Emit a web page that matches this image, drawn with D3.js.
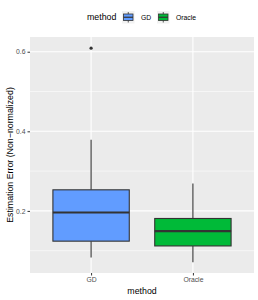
<!DOCTYPE html>
<html>
<head>
<meta charset="utf-8">
<script src="https://cdn.jsdelivr.net/npm/d3@7"></script>
<style>
  body { margin: 0; background: #fff; }
  svg { font-family: "Liberation Sans", Arial, sans-serif; }
</style>
</head>
<body>
<div id="chart"></div>
<script>
// Box summaries
var methods = ["GD", "Oracle"];
var colors = ["#619CFF", "#00BA38"];
var whiskerLow = [0.083, 0.071];
var q1 = [0.124, 0.112];
var medians = [0.196, 0.149];
var q3 = [0.253, 0.181];
var whiskerHigh = [0.379, 0.269];
var outliers = [[0.609], []];
var yTicks = [0.2, 0.4, 0.6];
var yMinor = [0.1, 0.3, 0.5];

var width = 258, height = 300;
var margin = { top: 37, right: 4, bottom: 27, left: 30 };

var svg = d3.select("#chart")
    .append("svg")
    .attr("width", width)
    .attr("height", height);

// Discrete x: centres at 1 and 2 with 0.6 units of padding either side
var x = d3.scalePoint()
    .domain(methods)
    .range([margin.left, width - margin.right])
    .padding(0.6);

var boxW = x.step() * 0.75;

var y = d3.scaleLinear()
    .domain([0.044, 0.637])
    .range([height - margin.bottom, margin.top]);

// Panel background
svg.append("rect")
    .attr("x", margin.left)
    .attr("y", margin.top)
    .attr("width", width - margin.right - margin.left)
    .attr("height", height - margin.bottom - margin.top)
    .attr("fill", "#EBEBEB");

// Minor grid lines
svg.selectAll(".minor")
    .data(yMinor)
    .enter()
    .append("line")
    .attr("x1", margin.left)
    .attr("x2", width - margin.right)
    .attr("y1", function(d) { return y(d); })
    .attr("y2", function(d) { return y(d); })
    .attr("stroke", "#fff")
    .attr("stroke-width", 0.55);

// Major grid lines
svg.selectAll(".major")
    .data(yTicks)
    .enter()
    .append("line")
    .attr("x1", margin.left)
    .attr("x2", width - margin.right)
    .attr("y1", function(d) { return y(d); })
    .attr("y2", function(d) { return y(d); })
    .attr("stroke", "#fff")
    .attr("stroke-width", 1.1);

svg.selectAll(".vgrid")
    .data(methods)
    .enter()
    .append("line")
    .attr("x1", function(d) { return x(d); })
    .attr("x2", function(d) { return x(d); })
    .attr("y1", margin.top)
    .attr("y2", height - margin.bottom)
    .attr("stroke", "#fff")
    .attr("stroke-width", 1.1);

// Axes
var yAxis = svg.append("g")
    .attr("transform", "translate(" + margin.left + ",0)")
    .call(d3.axisLeft(y).tickValues(yTicks).tickFormat(d3.format(".1f")).tickSize(2.5).tickPadding(2));

var xAxis = svg.append("g")
    .attr("transform", "translate(0," + (height - margin.bottom) + ")")
    .call(d3.axisBottom(x).tickSize(2.5).tickPadding(2));

[yAxis, xAxis].forEach(function(g) {
    g.select(".domain").remove();
    g.selectAll(".tick line").attr("stroke", "#333").attr("stroke-width", 1);
    g.selectAll("text").attr("fill", "#4D4D4D").style("font-size", "6.8px");
});

// Boxes
var boxes = svg.selectAll(".box")
    .data(methods)
    .enter()
    .append("g")
    .attr("class", "box");

boxes.append("line")
    .attr("x1", function(d) { return x(d); })
    .attr("x2", function(d) { return x(d); })
    .attr("y1", function(d, i) { return y(whiskerLow[i]); })
    .attr("y2", function(d, i) { return y(q1[i]); })
    .attr("stroke", "#333")
    .attr("stroke-width", 1.1);

boxes.append("line")
    .attr("x1", function(d) { return x(d); })
    .attr("x2", function(d) { return x(d); })
    .attr("y1", function(d, i) { return y(q3[i]); })
    .attr("y2", function(d, i) { return y(whiskerHigh[i]); })
    .attr("stroke", "#333")
    .attr("stroke-width", 1.1);

boxes.append("rect")
    .attr("x", function(d) { return x(d) - boxW / 2; })
    .attr("width", boxW)
    .attr("y", function(d, i) { return y(q3[i]); })
    .attr("height", function(d, i) { return y(q1[i]) - y(q3[i]); })
    .attr("fill", function(d, i) { return colors[i]; })
    .attr("stroke", "#333")
    .attr("stroke-width", 1.1);

boxes.append("line")
    .attr("x1", function(d) { return x(d) - boxW / 2; })
    .attr("x2", function(d) { return x(d) + boxW / 2; })
    .attr("y1", function(d, i) { return y(medians[i]); })
    .attr("y2", function(d, i) { return y(medians[i]); })
    .attr("stroke", "#333")
    .attr("stroke-width", 2.2);

boxes.each(function(d, i) {
    d3.select(this).selectAll("circle")
        .data(outliers[i])
        .enter()
        .append("circle")
        .attr("cx", x(d))
        .attr("cy", function(v) { return y(v); })
        .attr("r", 1.6)
        .attr("fill", "#333");
});

// Axis titles
svg.append("text")
    .attr("x", (margin.left + width - margin.right) / 2)
    .attr("y", 294)
    .attr("text-anchor", "middle")
    .style("font-size", "8.8px")
    .text("method");

svg.append("text")
    .attr("transform", "translate(13," + ((margin.top + height - margin.bottom) / 2) + ") rotate(-90)")
    .attr("text-anchor", "middle")
    .style("font-size", "8.8px")
    .text("Estimation Error (Non\u2212normalized)");

// Legend
var legend = svg.append("g");
legend.append("text")
    .attr("x", 87)
    .attr("y", 19.5)
    .style("font-size", "8.8px")
    .text("method");

var keyX = [122, 157];
var labelX = [141, 176];
methods.forEach(function(m, i) {
    var k = legend.append("g").attr("transform", "translate(" + keyX[i] + ",11)");
    k.append("rect").attr("width", 12.5).attr("height", 12.5).attr("fill", "#F2F2F2");
    k.append("line").attr("x1", 6.25).attr("x2", 6.25).attr("y1", 1).attr("y2", 11.5)
        .attr("stroke", "#333").attr("stroke-width", 0.8);
    k.append("rect").attr("x", 1.5).attr("y", 3).attr("width", 9.5).attr("height", 6.5)
        .attr("fill", colors[i]).attr("stroke", "#333").attr("stroke-width", 0.8);
    k.append("line").attr("x1", 1.5).attr("x2", 11).attr("y1", 6.25).attr("y2", 6.25)
        .attr("stroke", "#333").attr("stroke-width", 1.2);
    legend.append("text")
        .attr("x", labelX[i])
        .attr("y", 19.5)
        .style("font-size", "6.8px")
        .text(m);
});
</script>
</body>
</html>
